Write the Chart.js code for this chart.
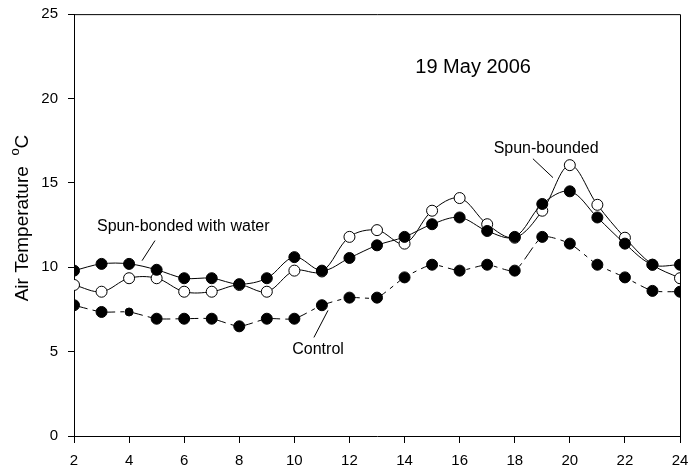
<!DOCTYPE html>
<html>
<head>
<meta charset="utf-8">
<script src="https://cdn.jsdelivr.net/npm/chart.js@4"></script>
<style>
  html, body { margin: 0; padding: 0; background: #fff; }
  #wrap { width: 700px; height: 471px; }
</style>
</head>
<body>
<div id="wrap"><canvas id="airTemp"></canvas></div>
<script>
const hours = [2, 3, 4, 5, 6, 7, 8, 9, 10, 11, 12, 13, 14, 15, 16, 17, 18, 19, 20, 21, 22, 23, 24];
const spunWater   = [9.8, 10.2, 10.2, 9.85, 9.35, 9.35, 9.0, 9.35, 10.6, 9.8, 10.55, 11.3, 11.8, 12.55, 12.95, 12.15, 11.8, 13.75, 14.5, 12.95, 11.4, 10.15, 10.15];
const spunBounded = [8.95, 8.55, 9.35, 9.35, 8.55, 8.55, 8.95, 8.55, 9.8, 9.75, 11.8, 12.2, 11.4, 13.35, 14.1, 12.55, 11.75, 13.35, 16.05, 13.7, 11.75, 10.15, 9.35];
const control     = [7.75, 7.35, 7.35, 6.95, 6.95, 6.95, 6.5, 6.95, 6.95, 7.75, 8.2, 8.2, 9.4, 10.15, 9.8, 10.15, 9.8, 11.8, 11.4, 10.15, 9.4, 8.6, 8.55];
const xTicks = [2, 4, 6, 8, 10, 12, 14, 16, 18, 20, 22, 24];

const pts = (ys) => hours.map((h, i) => ({ x: h, y: ys[i] }));
const FONT = '"Liberation Sans", Arial, sans-serif';

// frame, annotations and axis title
const extras = {
  id: 'extras',
  afterDraw(chart) {
    const { ctx, chartArea: a, scales: { x, y } } = chart;
    const X = (v) => x.getPixelForValue(v);
    const Y = (v) => y.getPixelForValue(v);
    ctx.save();
    ctx.strokeStyle = '#000';
    ctx.lineWidth = 1;
    ctx.beginPath();
    ctx.moveTo(a.left, a.top + 0.5);
    ctx.lineTo(a.right + 0.5, a.top + 0.5);
    ctx.lineTo(a.right + 0.5, a.bottom);
    ctx.stroke();

    ctx.fillStyle = '#000';
    ctx.textBaseline = 'middle';
    ctx.font = '20px ' + FONT;
    ctx.textAlign = 'center';
    ctx.fillText('19 May 2006', X(16.49), Y(21.82));

    ctx.font = '16px ' + FONT;
    ctx.textAlign = 'left';
    ctx.fillText('Spun-bonded with water', X(2.835), Y(12.41));
    ctx.textAlign = 'center';
    ctx.fillText('Control', X(10.86), Y(5.13));
    ctx.fillText('Spun-bounded', X(19.14), Y(17.02));

    const lead = (x1, y1, x2, y2) => {
      ctx.beginPath();
      ctx.moveTo(X(x1), Y(y1));
      ctx.lineTo(X(x2), Y(y2));
      ctx.stroke();
    };
    lead(4.94, 11.58, 4.47, 10.39);
    lead(11.22, 7.44, 10.71, 5.84);
    lead(18.66, 16.43, 19.39, 15.31);

    // y title with superscript degree
    ctx.translate(23, 218);
    ctx.rotate(-Math.PI / 2);
    ctx.font = '19px ' + FONT;
    ctx.textAlign = 'left';
    const t1 = 'Air Temperature  ';
    const w1 = ctx.measureText(t1).width;
    ctx.font = '13px ' + FONT;
    const w2 = ctx.measureText('o').width;
    ctx.font = '19px ' + FONT;
    const w3 = ctx.measureText('C').width;
    const start = -(w1 + w2 + w3) / 2;
    ctx.fillText(t1, start, 0);
    ctx.font = '13px ' + FONT;
    ctx.fillText('o', start + w1, -8);
    ctx.font = '19px ' + FONT;
    ctx.fillText('C', start + w1 + w2, 0);
    ctx.restore();
  }
};

const config = {
  type: 'line',
  data: {
    datasets: [
      {
        label: 'Spun-bonded with water',
        data: pts(spunWater),
        borderColor: '#000',
        borderWidth: 1,
        backgroundColor: '#000',
        pointBackgroundColor: '#000',
        pointBorderColor: '#000',
        pointRadius: 5.5,
        tension: 0.35
      },
      {
        label: 'Spun-bounded',
        data: pts(spunBounded),
        borderColor: '#000',
        borderWidth: 1,
        pointBackgroundColor: '#fff',
        pointBorderColor: '#000',
        pointBorderWidth: 1,
        pointRadius: 5.5,
        tension: 0.35
      },
      {
        label: 'Control',
        data: pts(control),
        borderColor: '#000',
        borderWidth: 1,
        borderDash: [14, 5, 4, 5],
        pointBackgroundColor: '#000',
        pointBorderColor: '#000',
        pointRadius: hours.map((h) => (h === 4 ? 4 : 5.5)),
        tension: 0.2
      }
    ]
  },
  options: {
    responsive: true,
    maintainAspectRatio: false,
    animation: false,
    layout: { padding: { top: 0, right: 20, left: 0, bottom: 0 } },
    plugins: {
      legend: { display: false },
      tooltip: { enabled: false }
    },
    scales: {
      x: {
        type: 'linear',
        min: 2,
        max: 24,
        afterFit: (s) => { s.height = 35; },
        afterBuildTicks: (s) => { s.ticks = xTicks.map((v) => ({ value: v })); },
        grid: { drawOnChartArea: false, color: '#000', tickLength: 7 },
        border: { color: '#000', width: 1 },
        ticks: { color: '#000', font: { family: FONT, size: 15 }, padding: 9, maxRotation: 0 }
      },
      y: {
        min: 0,
        max: 25,
        afterFit: (s) => { s.width = 74; },
        grid: { drawOnChartArea: false, color: '#000', tickLength: 6 },
        border: { color: '#000', width: 1 },
        ticks: { stepSize: 5, color: '#000', font: { family: FONT, size: 15, lineHeight: 0.55 }, padding: 10 }
      }
    }
  },
  plugins: [extras]
};

const myChart = new Chart(document.getElementById('airTemp'), config);
</script>
</body>
</html>
